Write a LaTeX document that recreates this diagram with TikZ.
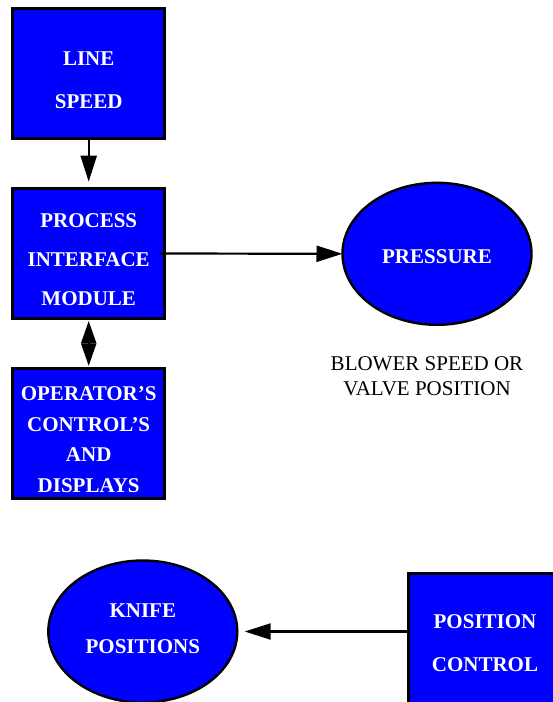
\documentclass[tikz,border=0pt]{standalone}
\usepackage{fontspec}
\setmainfont{Liberation Serif}
\usetikzlibrary{arrows.meta,shapes.geometric}
\begin{document}
\begin{tikzpicture}[x=1pt,y=-1pt,
  boxnode/.style={draw=black,line width=3pt,fill=blue,text=white,
    font=\bfseries\fontsize{21}{#1}\selectfont,align=center,
    minimum width=152.3pt,minimum height=130pt,inner sep=0pt,outer sep=0pt},
  ovalnode/.style={ellipse,draw=black,line width=2.4pt,fill=blue,text=white,
    font=\bfseries\fontsize{21}{#1}\selectfont,align=center,
    minimum width=189pt,minimum height=142pt,inner sep=0pt,outer sep=0pt},
  conn/.style={line width=2.2pt,-{Triangle[length=26pt,width=16pt]}},
  bothconn/.style={line width=2.2pt,{Triangle[length=22.5pt,width=15pt]}-{Triangle[length=22.5pt,width=15pt]}},
  plaintext/.style={font=\fontsize{21}{24.7}\selectfont,align=center,inner sep=0pt}
]
\clip (0,0) rectangle (553,702);
\fill[white] (0,0) rectangle (553,702);
\node[boxnode=43] (ls) at (88.7,73.7) {\rule{0pt}{25.8pt}LINE\\SPEED};
\node[boxnode=39.1] (pim) at (88.7,253.5) {\rule{0pt}{26.2pt}PROCESS\\INTERFACE\\MODULE};
\node[boxnode=30.5] (op) at (88.7,433.7) {\rule{0pt}{26pt}OPERATOR’S\\CONTROL’S\\AND\\DISPLAYS};
\node[ovalnode=25] (pres) at (437,253.8) {\rule{0pt}{20.2pt}PRESSURE};
\node[plaintext] (blower) at (427,375.9) {BLOWER SPEED OR\\VALVE POSITION};
\node[ovalnode=36.7] (knife) at (142.8,631.5) {KNIFE\\POSITIONS\rule[-6pt]{0pt}{6pt}};
\node[boxnode=43.3] (pos) at (485,638.7) {\rule{0pt}{23pt}POSITION\\CONTROL};
\draw[conn] (ls.south) -- ([yshift=6.8pt]pim.north);
\draw[conn] ([xshift=-5pt]pim.east) -- (pres.west);
\draw[bothconn] ([yshift=-2.4pt]pim.south) -- ([yshift=2.8pt]op.north);
\draw[conn] (pos.west |- knife.east) -- ([xshift=7.4pt]knife.east);
\end{tikzpicture}
\end{document}
